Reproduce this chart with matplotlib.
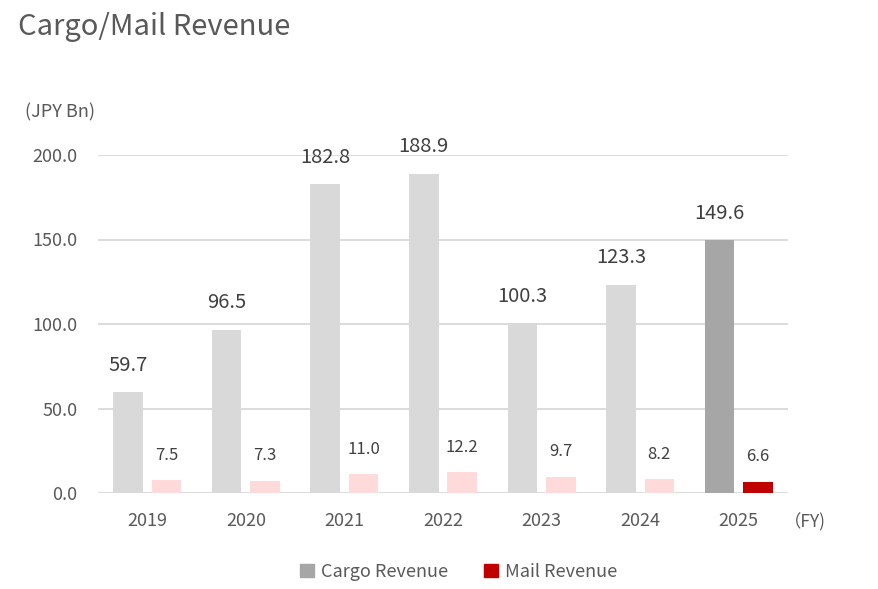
import numpy as np
import matplotlib
matplotlib.use("Agg")
import matplotlib.pyplot as plt
from matplotlib.patches import Patch

plt.rcParams['font.family'] = ['Noto Sans CJK JP', 'DejaVu Sans']

# data
years = ["2019", "2020", "2021", "2022", "2023", "2024", "2025"]
cargo = [59.7, 96.5, 182.8, 188.9, 100.3, 123.3, 149.6]
mail = [7.5, 7.3, 11.0, 12.2, 9.7, 8.2, 6.6]

text_col = "#595959"
cargo_cols = ["#d9d9d9"] * 6 + ["#a6a6a6"]
mail_cols = ["#ffdada"] * 6 + ["#c00000"]

fig = plt.figure(figsize=(8.79, 5.89), dpi=100)
ax = fig.add_axes([98 / 879, 96 / 589, 690 / 879, 338 / 589])

x = np.arange(len(years))
w = 0.30
off = 0.195
ax.bar(x - off, cargo, width=w, color=cargo_cols, zorder=2)
ax.bar(x + off, mail, width=w, color=mail_cols, zorder=2)

for xi, v in zip(x, cargo):
    ax.annotate(f"{v:.1f}", (xi - off, v), xytext=(0, 27), textcoords="offset pixels",
                ha="center", va="center", fontsize=14.5, color="#404040", annotation_clip=False)
for xi, v in zip(x, mail):
    ax.annotate(f"{v:.1f}", (xi + off, v), xytext=(0, 25), textcoords="offset pixels",
                ha="center", va="center", fontsize=12, color="#404040", annotation_clip=False)

ax.set_xlim(-0.5, len(years) - 0.5)
ax.set_ylim(0, 200)
ax.set_yticks([0, 50, 100, 150, 200])
ax.set_yticklabels([f"{t:.1f}" for t in [0, 50, 100, 150, 200]])
ax.set_xticks(x)
ax.set_xticklabels(years)
ax.tick_params(axis="both", length=0, colors=text_col)
ax.tick_params(axis="y", pad=15, labelsize=13)
ax.tick_params(axis="x", pad=14, labelsize=13)
ax.grid(axis="y", color="#d9d9d9", linewidth=1.3, zorder=0)
for s in ax.spines.values():
    s.set_visible(False)

fig.text(18 / 879, 1 - 27 / 589, "Cargo/Mail Revenue", fontsize=21, color=text_col, va="center")
fig.text(25 / 879, 1 - 112 / 589, "(JPY Bn)", fontsize=13, color=text_col, va="center")
fig.text(784 / 879, 1 - 522 / 589, "（FY)", fontsize=12.5, color=text_col, va="center")

handles = [Patch(color="#a6a6a6", label="Cargo Revenue"),
           Patch(color="#c00000", label="Mail Revenue")]
leg = fig.legend(handles=handles, loc="center", bbox_to_anchor=(459 / 879, 1 - 572 / 589),
                 ncol=2, frameon=False, fontsize=13, handlelength=0.75, handleheight=0.75,
                 handletextpad=0.4, columnspacing=2.0)
for t in leg.get_texts():
    t.set_color(text_col)

fig.savefig("out.png", dpi=100)
